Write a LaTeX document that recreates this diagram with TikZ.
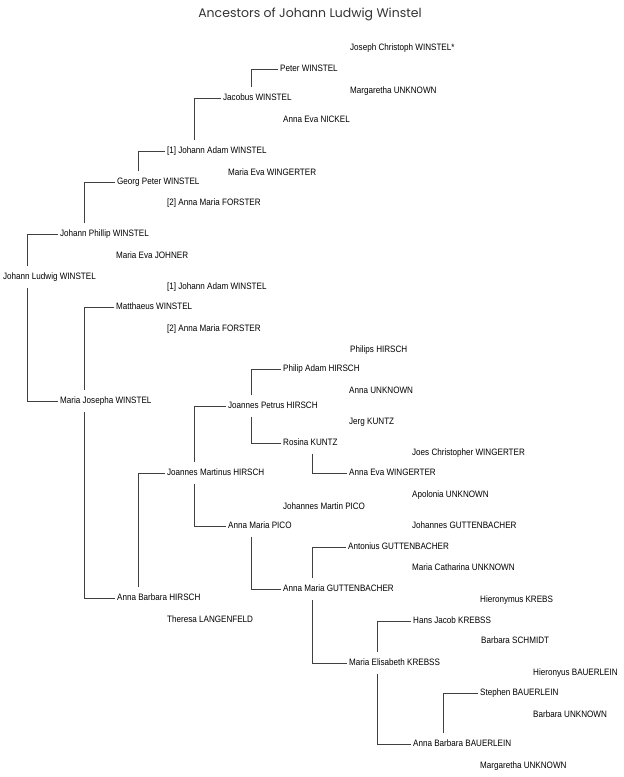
\documentclass[tikz,border=0pt]{standalone}
\usepackage{fontspec}
\setmainfont{Liberation Sans}[FakeStretch=0.87]
\newfontfamily\titlefont{Poppins}
\usepackage{tikz}
\usetikzlibrary{calc}

\begin{document}
\begin{tikzpicture}[x=1pt, y=-1pt,
    person/.style={anchor=west, inner xsep=2pt, inner ysep=6pt, text height=7pt, text depth=2pt, font=\fontsize{9.3}{10}\selectfont},
    link/.style={line width=0.8pt, black!75}]
      \useasboundingbox (0,0) rectangle (624,777);
      \node[font=\titlefont\fontsize{12.5}{14}\selectfont, text=black!80] (title) at (310,14) {Ancestors of Johann Ludwig Winstel};
      % columns of the connectors
      \coordinate (c0) at (27,0);
      \coordinate (c1) at (84,0);
      \coordinate (c2) at (138,0);
      \coordinate (c3) at (194,0);
      \coordinate (c4) at (251,0);
      \coordinate (c5) at (312.5,0);
      \coordinate (c6) at (377.5,0);
      \coordinate (c7) at (443,0);
      % people
      \node[person] (jl) at (1,277) {Johann Ludwig WINSTEL};
      \node[person] (jp) at (58,234) {Johann Phillip WINSTEL};
      \node[person] (mj) at (58,401) {Maria Josepha WINSTEL};
      \node[person] (gp) at (115,182) {Georg Peter WINSTEL};
      \node[person] (mej) at (114,256) {Maria Eva JOHNER};
      \node[person] (mw) at (114,307) {Matthaeus WINSTEL};
      \node[person] (abh) at (115,598) {Anna Barbara HIRSCH};
      \node[person] (ja) at (165,151) {[1] Johann Adam WINSTEL};
      \node[person] (amf) at (165,203) {[2] Anna Maria FORSTER};
      \node[person] (jab) at (165,287) {[1] Johann Adam WINSTEL};
      \node[person] (amfb) at (165,329) {[2] Anna Maria FORSTER};
      \node[person] (jmh) at (165,473) {Joannes Martinus HIRSCH};
      \node[person] (tl) at (165,620) {Theresa LANGENFELD};
      \node[person] (jw) at (221,98) {Jacobus WINSTEL};
      \node[person] (mew) at (226,173) {Maria Eva WINGERTER};
      \node[person] (jph) at (226,406) {Joannes Petrus HIRSCH};
      \node[person] (amp) at (226,526) {Anna Maria PICO};
      \node[person] (pw) at (278,69) {Peter WINSTEL};
      \node[person] (aen) at (281,120) {Anna Eva NICKEL};
      \node[person] (pah) at (281,369) {Philip Adam HIRSCH};
      \node[person] (rk) at (281,443) {Rosina KUNTZ};
      \node[person] (jmp) at (281,507) {Johannes Martin PICO};
      \node[person] (amg) at (281,589) {Anna Maria GUTTENBACHER};
      \node[person] (jcw) at (348,48) {Joseph Christoph WINSTEL*};
      \node[person] (mu) at (348,91) {Margaretha UNKNOWN};
      \node[person] (ph) at (348,350) {Philips HIRSCH};
      \node[person] (au) at (347,391) {Anna UNKNOWN};
      \node[person] (jk) at (347,422) {Jerg KUNTZ};
      \node[person] (aew) at (347,473) {Anna Eva WINGERTER};
      \node[person] (ag) at (346,547) {Antonius GUTTENBACHER};
      \node[person] (mek) at (347,663) {Maria Elisabeth KREBSS};
      \node[person] (jcwg) at (410,453) {Joes Christopher WINGERTER};
      \node[person] (apu) at (410,495) {Apolonia UNKNOWN};
      \node[person] (jg) at (410,526) {Johannes GUTTENBACHER};
      \node[person] (mcu) at (410,568) {Maria Catharina UNKNOWN};
      \node[person] (hjk) at (411,621) {Hans Jacob KREBSS};
      \node[person] (abb) at (411,744) {Anna Barbara BAUERLEIN};
      \node[person] (hk) at (478,600) {Hieronymus KREBS};
      \node[person] (bs) at (479,641) {Barbara SCHMIDT};
      \node[person] (sb) at (478,693) {Stephen BAUERLEIN};
      \node[person] (mub) at (478,766) {Margaretha UNKNOWN};
      \node[person] (hb) at (531,673) {Hieronyus BAUERLEIN};
      \node[person] (bu) at (531,715) {Barbara UNKNOWN};
      % child to parent
      \draw[link] (jl.north -| c0) |- (jp.west);
      \draw[link] (jl.south -| c0) |- (mj.west);
      \draw[link] (jp.north -| c1) |- (gp.west);
      \draw[link] (gp.north -| c2) |- (ja.west);
      \draw[link] (ja.north -| c3) |- (jw.west);
      \draw[link] (jw.north -| c4) |- (pw.west);
      \draw[link] (mj.north -| c1) |- (mw.west);
      \draw[link] (mj.south -| c1) |- (abh.west);
      \draw[link] (abh.north -| c2) |- (jmh.west);
      \draw[link] (jmh.north -| c3) |- (jph.west);
      \draw[link] (jmh.south -| c3) |- (amp.west);
      \draw[link] (jph.north -| c4) |- (pah.west);
      \draw[link] (jph.south -| c4) |- (rk.west);
      \draw[link] (rk.south -| c5) |- (aew.west);
      \draw[link] (amp.south -| c4) |- (amg.west);
      \draw[link] (amg.north -| c5) |- (ag.west);
      \draw[link] (amg.south -| c5) |- (mek.west);
      \draw[link] (mek.north -| c6) |- (hjk.west);
      \draw[link] (mek.south -| c6) |- (abb.west);
      \draw[link] (abb.north -| c7) |- (sb.west);
    \end{tikzpicture}
\end{document}
